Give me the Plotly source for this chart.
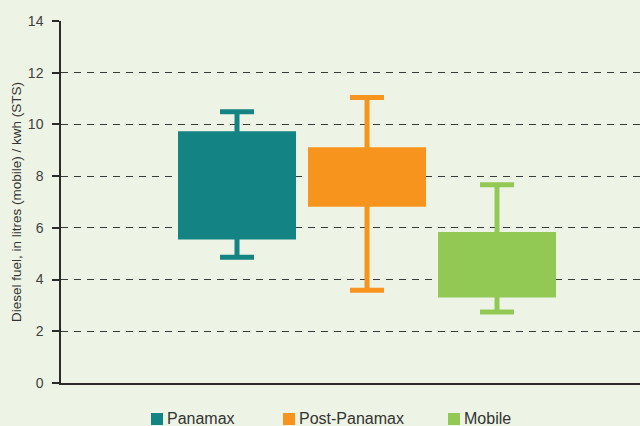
import plotly.graph_objects as go

categories = ["Panamax", "Post-Panamax", "Mobile"]
box_low = [5.55, 6.82, 3.31]
box_high = [9.74, 9.12, 5.84]
whisker_low = [4.86, 3.59, 2.75]
whisker_high = [10.49, 11.04, 7.67]
colors = ["#148383", "#f7941d", "#92c854"]
y_ticks = [0, 2, 4, 6, 8, 10, 12, 14]

W, H = 640, 426
ML, MR, MT, MB = 61, 0, 21, 43
pw, ph = W - ML - MR, H - MT - MB

def px_x(p):
    return (p - ML) / pw

def px_y(p):
    return (H - MB - p) / ph

fig = go.Figure()
for i, cat in enumerate(categories):
    fig.add_trace(go.Bar(
        x=[i], y=[box_high[i] - box_low[i]], base=[box_low[i]],
        width=0.908, marker=dict(color=colors[i], line=dict(width=0)),
        name=cat, showlegend=False,
    ))
for i, cat in enumerate(categories):
    fig.add_trace(go.Scatter(
        x=[i], y=[box_low[i]], mode="markers",
        marker=dict(size=1, opacity=0), showlegend=False, hoverinfo="skip",
        error_y=dict(type="data", symmetric=False,
                     array=[whisker_high[i] - box_low[i]],
                     arrayminus=[box_low[i] - whisker_low[i]],
                     color=colors[i], thickness=5, width=17),
    ))

# manual legend (squares + labels) below the plot
legend_sq_px = [151, 283, 448]
shapes, annotations = [], []
for i, cat in enumerate(categories):
    x0 = legend_sq_px[i]
    shapes.append(dict(type="rect", xref="paper", yref="paper",
                       x0=px_x(x0), x1=px_x(x0 + 12), y0=px_y(425), y1=px_y(413),
                       fillcolor=colors[i], line=dict(width=0)))
    annotations.append(dict(text=cat, xref="paper", yref="paper",
                            x=px_x(x0 + 14), y=px_y(418), xanchor="left", yanchor="middle",
                            showarrow=False,
                            font=dict(family="Liberation Sans, Arial", size=16, color="#333333")))

fig.update_layout(
    width=W, height=H,
    margin=dict(l=ML, r=MR, t=MT, b=MB, pad=0),
    paper_bgcolor="#eef4e5", plot_bgcolor="#eef4e5",
    font=dict(family="Liberation Sans, Arial", color="#333333"),
    showlegend=False,
    barmode="overlay",
    shapes=shapes, annotations=annotations,
    xaxis=dict(range=[-1.354, 3.1], showticklabels=False, showgrid=False,
               zeroline=False, showline=True, linecolor="#2b2b2b", linewidth=1.5,
               ticks="", fixedrange=True, automargin=False),
    yaxis=dict(range=[0, 14], tickvals=y_ticks, ticktext=[str(v) for v in y_ticks],
               showgrid=True, gridcolor="#3a3a3a", gridwidth=1.2, griddash="7px,6px",
               zeroline=False, showline=True, linecolor="#2b2b2b", linewidth=1.5,
               ticks="outside", ticklen=7, tickcolor="#2b2b2b", tickwidth=1.5,
               ticklabelstandoff=6,
               tickfont=dict(size=14, color="#404040"),
               title=dict(text="Diesel fuel, in litres (mobile) / kwh (STS)",
                          font=dict(size=13.5, color="#333333"), standoff=3),
               fixedrange=True, automargin=False),
)

fig.write_html("out.html", config={"displayModeBar": False},
               post_script="document.body.style.margin='0px';document.body.style.overflow='hidden';")
